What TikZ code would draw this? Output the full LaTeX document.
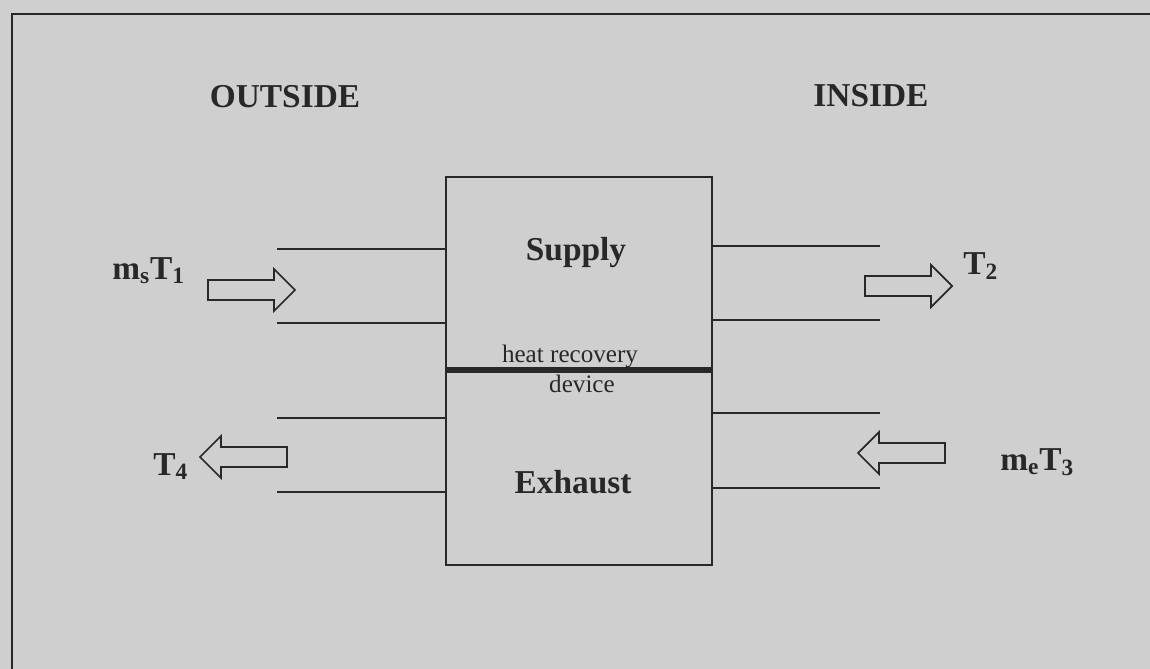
\documentclass[tikz,border=0pt]{standalone}
\usepackage{fontspec}
\setmainfont{Liberation Serif}
\definecolor{scan}{RGB}{207,207,207}
\definecolor{ink}{RGB}{40,40,40}
\begin{document}
\begin{tikzpicture}[x=0.02cm, y=-0.02cm,
  big/.style={font=\fontsize{19}{22}\selectfont\bfseries, text=ink, inner sep=0pt},
  small/.style={font=\fontsize{14.3}{16}\selectfont, text=ink, inner sep=0pt},
  duct/.style={ink, line width=0.9pt},
  flow/.pic={\draw[ink, line width=1pt, line join=miter] (0,-10) -- (66,-10) -- (66,-21) -- (87,0) -- (66,21) -- (66,10) -- (0,10) -- cycle;}]
\fill[scan] (0,0) rectangle (1150,669);
\useasboundingbox (0,0) rectangle (1150,669);
\draw[ink, line width=1pt] (12,669) -- (12,14) -- (1150,14);
% side headings
\node[big, anchor=base] (outside) at (285,108) {OUTSIDE};
\node[big, anchor=base] (inside) at (871,107) {INSIDE};
% heat recovery unit
\node[draw=ink, line width=1pt, minimum width=5.32cm, minimum height=7.76cm] (unit) at (579,371) {};
\draw[ink, line width=3.4pt] (unit.west |- 0,370) -- (unit.east |- 0,370);
\node[big, anchor=base] (supply) at (576,260) {Supply};
\node[big, anchor=base] (exhaust) at (573,493) {Exhaust};
\node[small, anchor=base] (hrd1) at (570,362) {heat recovery};
\node[small, anchor=base] (hrd2) at (582,392) {device};
% ducts, outside
\coordinate (oa) at (277,249);
\coordinate (ob) at (277,323);
\coordinate (oc) at (277,418);
\coordinate (od) at (277,492);
\foreach \c in {oa,ob,oc,od}
  \draw[duct] (\c) -- (\c -| unit.west);
% ducts, inside
\coordinate (ia) at (880,246);
\coordinate (ib) at (880,320);
\coordinate (ic) at (880,413);
\coordinate (id) at (880,488);
\foreach \c in {ia,ib,ic,id}
  \draw[duct] (\c) -- (\c -| unit.east);
% air flows
\pic at (208,290) {flow};
\pic at (865,286) {flow};
\pic[xscale=-1] at (287,457) {flow};
\pic[xscale=-1] at (945,453) {flow};
\node[big, anchor=base west] (t1) at (112,279) {m\textsubscript{s}T\textsubscript{1}};
\node[big, anchor=base west] (t2) at (963,274) {T\textsubscript{2}};
\node[big, anchor=base west] (t3) at (1000,470) {m\textsubscript{e}T\textsubscript{3}};
\node[big, anchor=base west] (t4) at (153,475) {T\textsubscript{4}};
\end{tikzpicture}
\end{document}
